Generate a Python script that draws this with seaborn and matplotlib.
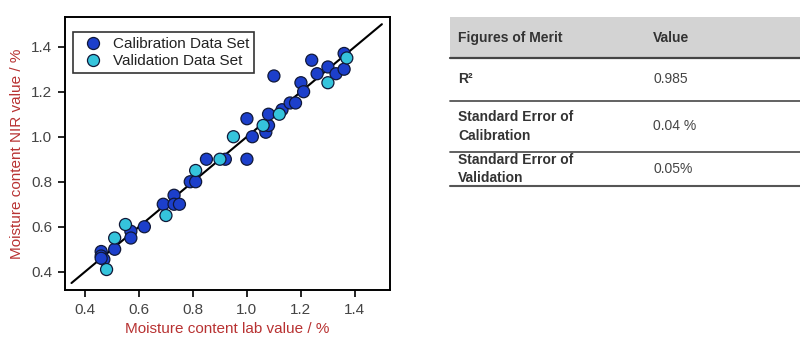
import numpy as np
import pandas as pd
import matplotlib
matplotlib.use("Agg")
import matplotlib.pyplot as plt
import seaborn as sns

# ---- data ----
cal_lab = [0.46, 0.46, 0.47, 0.46, 0.51, 0.57, 0.57, 0.62, 0.69, 0.73, 0.73, 0.75,
           0.79, 0.81, 0.85, 0.92, 1.00, 1.00, 1.02, 1.07, 1.08, 1.08, 1.10, 1.13,
           1.16, 1.18, 1.20, 1.21, 1.24, 1.26, 1.30, 1.33, 1.36, 1.36]
cal_nir = [0.49, 0.47, 0.455, 0.46, 0.50, 0.58, 0.55, 0.60, 0.70, 0.74, 0.70, 0.70,
           0.80, 0.80, 0.90, 0.90, 0.90, 1.08, 1.00, 1.02, 1.05, 1.10, 1.27, 1.12,
           1.15, 1.15, 1.24, 1.20, 1.34, 1.28, 1.31, 1.28, 1.37, 1.30]
val_lab = [0.48, 0.51, 0.55, 0.70, 0.81, 0.90, 0.95, 1.06, 1.12, 1.30, 1.37]
val_nir = [0.41, 0.55, 0.61, 0.65, 0.85, 0.90, 1.00, 1.05, 1.10, 1.24, 1.35]
series_names = ["Calibration Data Set", "Validation Data Set"]
line_range = [0.35, 1.5]
x_ticks = [0.4, 0.6, 0.8, 1.0, 1.2, 1.4]
y_ticks = [0.4, 0.6, 0.8, 1.0, 1.2, 1.4]

table_header = ["Figures of Merit", "Value"]
table_names = ["R²", "Standard Error of\nCalibration", "Standard Error of\nValidation"]
table_values = ["0.985", "0.04 %", "0.05%"]

df = pd.DataFrame({
    "lab": cal_lab + val_lab,
    "nir": cal_nir + val_nir,
    "set": [series_names[0]] * len(cal_lab) + [series_names[1]] * len(val_lab),
})

sns.set_theme(style="ticks")
plt.rcParams["font.family"] = ["Liberation Sans", "DejaVu Sans"]

fig = plt.figure(figsize=(8.0, 3.41), dpi=100)
ax = fig.add_axes([65 / 800, 1 - 290 / 341, 325 / 800, 273 / 341])

ax.plot(line_range, line_range, color="black", lw=1.5, zorder=1)
sns.scatterplot(data=df, x="lab", y="nir", hue="set", ax=ax,
                palette={series_names[0]: "#1c3fcb", series_names[1]: "#35c4dc"},
                s=75, edgecolor="#101838", linewidth=0.9, zorder=3)

ax.set_xlim(0.326, 1.53)
ax.set_ylim(0.319, 1.532)
ax.set_xticks(x_ticks)
ax.set_yticks(y_ticks)
ax.set_xticklabels([f"{v:.1f}" for v in x_ticks])
ax.set_yticklabels([f"{v:.1f}" for v in y_ticks])
for s in ax.spines.values():
    s.set_visible(True)
    s.set_linewidth(1.4)
    s.set_color("black")
ax.tick_params(axis="both", direction="out", length=5, width=1.2,
               labelsize=11, labelcolor="#444444", color="black", pad=4)
ax.set_xlabel("Moisture content lab value / %", color="#b83232", fontsize=11, labelpad=4)
ax.set_ylabel("Moisture content NIR value / %", color="#b83232", fontsize=11, labelpad=5)

leg = ax.legend(loc="upper left", frameon=True, fancybox=False, edgecolor="black",
                fontsize=11, handletextpad=0.3, borderpad=0.3, labelspacing=0.2,
                bbox_to_anchor=(0.015, 0.955), borderaxespad=0.2, markerscale=1.0)
leg.get_frame().set_linewidth(1.2)
for t in leg.get_texts():
    t.set_color("#222222")

# ---- table ----
tax = fig.add_axes([0, 0, 1, 1])
tax.set_xlim(0, 800)
tax.set_ylim(341, 0)
tax.axis("off")
left, right = 450, 800
tax.add_patch(plt.Rectangle((left, 17), right - left, 41, color="#d3d3d3", lw=0))
tax.plot([left, right], [58, 58], color="#444444", lw=1.6)
row_bounds = [58, 101, 152, 186]
for yb in row_bounds[1:-1]:
    tax.plot([left, right], [yb, yb], color="#555555", lw=1.3)
tax.plot([left, right], [186, 186], color="#555555", lw=1.5)
tax.text(458, 38, table_header[0], fontsize=10, fontweight="bold", color="#333333", va="center")
tax.text(653, 38, table_header[1], fontsize=10, fontweight="bold", color="#333333", va="center")
for i, (nm, vl) in enumerate(zip(table_names, table_values)):
    yc = (row_bounds[i] + row_bounds[i + 1]) / 2
    if i == 0:
        yc = 79
    tax.text(458, yc, nm, fontsize=10, fontweight="bold", color="#333333",
             va="center", linespacing=1.45)
    tax.text(653, yc, vl, fontsize=10, color="#444444", va="center")

fig.savefig("out.png", dpi=100, facecolor="white")
